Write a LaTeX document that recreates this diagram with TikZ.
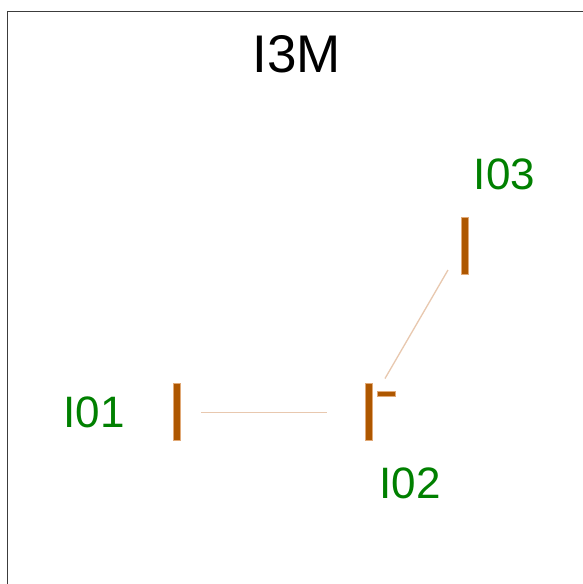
\documentclass[tikz,border=0pt]{standalone}
\usepackage{fontspec}
\setmainfont{Liberation Sans}
\definecolor{barc}{RGB}{174,87,0}
\definecolor{baredge}{RGB}{225,170,120}
\definecolor{linkc}{RGB}{232,200,175}
\definecolor{labc}{RGB}{0,128,0}
\definecolor{framec}{RGB}{60,60,60}
\begin{document}
\begin{tikzpicture}[x=1pt,y=-1pt,
  bar/.style={draw=baredge,line width=0.6pt,fill=barc,inner sep=0pt,minimum width=7pt,minimum height=57pt},
  tick/.style={draw=baredge,line width=0.4pt,fill=barc,inner sep=0pt,minimum width=18pt,minimum height=5.5pt},
  lab/.style={text=labc,anchor=base,inner sep=0pt,font=\fontsize{44}{50}\selectfont},
  link/.style={draw=linkc,line width=1.3pt}]
\useasboundingbox (0,0) rectangle (583,584);
\fill[white] (0,0) rectangle (583,584);
\draw[framec,line width=1pt] (7.5,584) -- (7.5,11.5) -- (583,11.5);
\node[anchor=base,inner sep=0pt,font=\fontsize{53}{60}\selectfont] (title) at (296.5,72) {I3M};
\node[bar] (b1) at (176.5,411.5) {};
\node[bar] (b2) at (369,411.5) {};
\node[tick] (t2) at (386,393.7) {};
\node[bar] (b3) at (464.5,245.5) {};
\node[lab] (l1) at (94,427.5) {I01};
\node[lab] (l2) at (410,498.5) {I02};
\node[lab] (l3) at (504.5,189.5) {I03};
\coordinate (h1) at (201,412.5);
\coordinate (h2) at (326.5,412.5);
\coordinate (d1) at (385,378.5);
\coordinate (d2) at (448,270);
\draw[link] (h1) -- (h2);
\draw[link] (d1) -- (d2);
\end{tikzpicture}
\end{document}
